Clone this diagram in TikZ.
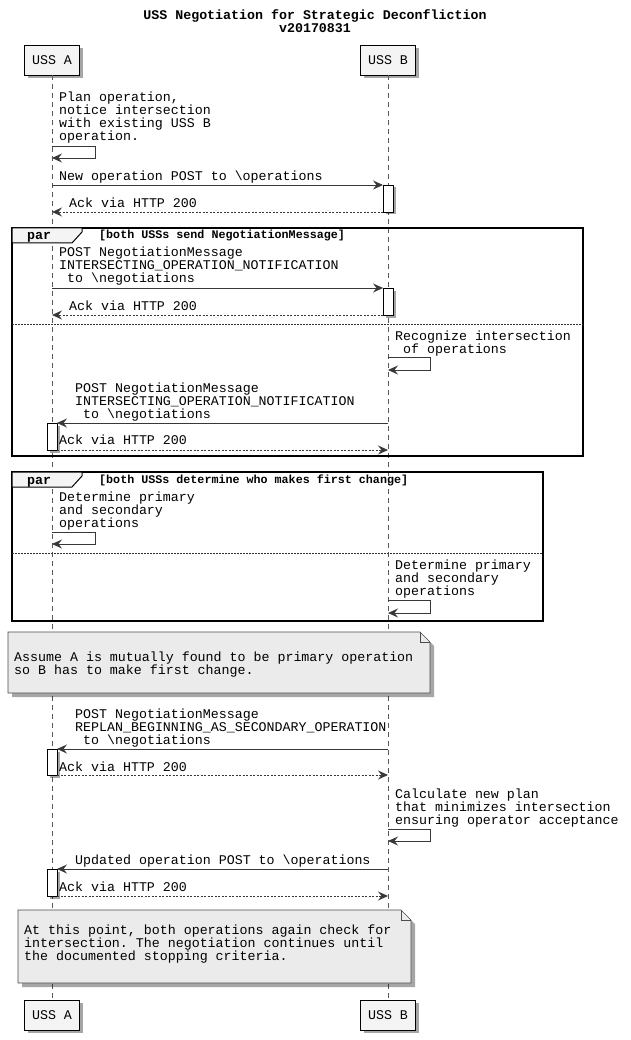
\documentclass[tikz,border=0pt]{standalone}
\usepackage{fontspec}
\setmonofont{Liberation Mono}
\usetikzlibrary{arrows.meta,shadows}
\definecolor{notefill}{HTML}{EBEBEB}
\definecolor{partfill}{HTML}{F4F4F4}
\definecolor{linecol}{HTML}{383838}
\begin{document}
\begin{tikzpicture}[x=1pt,y=-1pt,
  txt/.style={font=\ttfamily\fontsize{13.3}{13}\selectfont, inner sep=0pt, anchor=base west},
  ttl/.style={font=\ttfamily\bfseries\fontsize{13.3}{13}\selectfont, inner sep=0pt, anchor=base},
  grd/.style={font=\ttfamily\bfseries\fontsize{11.7}{13}\selectfont, inner sep=0pt, anchor=base west},
  part/.style={draw=black, line width=0.8pt, fill=partfill, minimum width=55pt, minimum height=30pt,
    inner sep=0pt, font=\ttfamily\fontsize{13.3}{13}\selectfont,
    drop shadow={shadow xshift=3pt, shadow yshift=-3pt, opacity=0.35, fill=black}},
  life/.style={draw=black!65, line width=0.6pt, dash pattern=on 5pt off 4pt},
  msg/.style={draw=linecol, line width=0.9pt, -{Stealth[length=10pt,width=9pt,inset=3.5pt]}},
  ret/.style={msg, dash pattern=on 2pt off 1.5pt},
  actbox/.style={draw=black, line width=0.8pt, fill=white,
    drop shadow={shadow xshift=2.5pt, shadow yshift=-2.5pt, opacity=0.35, fill=black}},
  frm/.style={draw=black, line width=1.5pt},
  tab/.style={draw=black, line width=1pt, fill=partfill},
  sep/.style={draw=black!80, line width=0.8pt, dash pattern=on 1.5pt off 1.5pt},
  notebox/.style={draw=black!70, line width=0.7pt, fill=notefill,
    drop shadow={shadow xshift=4pt, shadow yshift=-4pt, opacity=0.35, fill=black}}
]
\useasboundingbox (0,0) rectangle (630,1040);
\def\xA{52}
\def\xB{388}

% title
\node[ttl] (t1) at (315,20) {USS Negotiation for Strategic Deconfliction};
\node[ttl] (t2) at (315,33) {v20170831};

% participants
\node[part] (pAt) at (\xA,60) {USS A};
\node[part] (pBt) at (\xB,60) {USS B};
\node[part] (pAb) at (\xA,1015) {USS A};
\node[part] (pBb) at (\xB,1015) {USS B};
\draw[life] (pAt.south) -- (pAb.north);
\draw[life] (pBt.south) -- (pBb.north);

% 1: self on A
\node[txt] (m0a) at (59,102) {Plan operation,};
\node[txt] (m0b) at (59,115) {notice intersection};
\node[txt] (m0c) at (59,128) {with existing USS B};
\node[txt] (m0d) at (59,141) {operation.};
\coordinate (s0a) at (\xA,146); \coordinate (s0b) at (95,146);
\coordinate (s0c) at (95,158); \coordinate (s0d) at (\xA,158);
\draw[msg] (s0a) -- (s0b) -- (s0c) -- (s0d);

% 2: new operation
\node[txt] (m1) at (59,181) {New operation POST to \textbackslash operations};
\draw[actbox] (383,185) rectangle (393,212);
\coordinate (a1) at (\xA,185); \coordinate (b1) at (383,185);
\draw[msg] (a1) -- (b1);
\node[txt] (r1) at (69,208) {Ack via HTTP 200};
\coordinate (a2) at (\xA,212); \coordinate (b2) at (383,212);
\draw[ret] (b2) -- (a2);

% par frame 1
\draw[frm] (12,228) rectangle (583,456);
\draw[tab] (12,228) -- (82,228) -- (82,232) -- (72,243) -- (12,243) -- cycle;
\node[ttl, anchor=base west] (par1) at (27,240) {par};
\node[grd] (g1) at (99,239) {[both USSs send NegotiationMessage]};

\node[txt] (m2a) at (59,257) {POST NegotiationMessage};
\node[txt] (m2b) at (59,270) {INTERSECTING\_OPERATION\_NOTIFICATION};
\node[txt] (m2c) at (59,283) {\ to \textbackslash negotiations};
\draw[actbox] (383,288) rectangle (393,315);
\coordinate (a3) at (\xA,288); \coordinate (b3) at (383,288);
\draw[msg] (a3) -- (b3);
\node[txt] (r2) at (69,310) {Ack via HTTP 200};
\coordinate (a4) at (\xA,315); \coordinate (b4) at (383,315);
\draw[ret] (b4) -- (a4);

\draw[sep] (12,324) -- (583,324);

\node[txt] (m3a) at (395,340) {Recognize intersection};
\node[txt] (m3b) at (395,353) {\ of operations};
\coordinate (s3a) at (\xB,357); \coordinate (s3b) at (430,357);
\coordinate (s3c) at (430,370); \coordinate (s3d) at (\xB,370);
\draw[msg] (s3a) -- (s3b) -- (s3c) -- (s3d);

\node[txt] (m4a) at (75,392) {POST NegotiationMessage};
\node[txt] (m4b) at (75,405) {INTERSECTING\_OPERATION\_NOTIFICATION};
\node[txt] (m4c) at (75,418) {\ to \textbackslash negotiations};
\draw[actbox] (47,423) rectangle (57,450);
\coordinate (b5) at (\xB,423); \coordinate (a5) at (57,423);
\draw[msg] (b5) -- (a5);
\node[txt] (r3) at (59,444) {Ack via HTTP 200};
\coordinate (a6) at (57,450); \coordinate (b6) at (\xB,450);
\draw[ret] (a6) -- (b6);

% par frame 2
\draw[frm] (12,472) rectangle (543,621);
\draw[tab] (12,472) -- (82,472) -- (82,476) -- (72,487) -- (12,487) -- cycle;
\node[ttl, anchor=base west] (par2) at (27,484) {par};
\node[grd] (g2) at (99,483) {[both USSs determine who makes first change]};

\node[txt] (m5a) at (59,501) {Determine primary};
\node[txt] (m5b) at (59,514) {and secondary};
\node[txt] (m5c) at (59,527) {operations};
\coordinate (s5a) at (\xA,532); \coordinate (s5b) at (95,532);
\coordinate (s5c) at (95,544); \coordinate (s5d) at (\xA,544);
\draw[msg] (s5a) -- (s5b) -- (s5c) -- (s5d);

\draw[sep] (12,553) -- (543,553);

\node[txt] (m6a) at (395,569) {Determine primary};
\node[txt] (m6b) at (395,582) {and secondary};
\node[txt] (m6c) at (395,595) {operations};
\coordinate (s6a) at (\xB,600); \coordinate (s6b) at (430,600);
\coordinate (s6c) at (430,613); \coordinate (s6d) at (\xB,613);
\draw[msg] (s6a) -- (s6b) -- (s6c) -- (s6d);

% note 1
\draw[notebox] (8,632) -- (420,632) -- (430,642) -- (430,693) -- (8,693) -- cycle;
\draw[draw=black!70, line width=0.7pt] (420,632) -- (420,642) -- (430,642);
\node[txt] (n1a) at (14,661) {Assume A is mutually found to be primary operation};
\node[txt] (n1b) at (14,674) {so B has to make first change.};

% replan message
\node[txt] (m7a) at (75,718) {POST NegotiationMessage};
\node[txt] (m7b) at (75,731) {REPLAN\_BEGINNING\_AS\_SECONDARY\_OPERATION};
\node[txt] (m7c) at (75,744) {\ to \textbackslash negotiations};
\draw[actbox] (47,749) rectangle (57,775);
\coordinate (b7) at (\xB,749); \coordinate (a7) at (57,749);
\draw[msg] (b7) -- (a7);
\node[txt] (r4) at (59,771) {Ack via HTTP 200};
\coordinate (a8) at (57,775); \coordinate (b8) at (\xB,775);
\draw[ret] (a8) -- (b8);

\node[txt] (m8a) at (395,798) {Calculate new plan};
\node[txt] (m8b) at (395,811) {that minimizes intersection};
\node[txt] (m8c) at (395,824) {ensuring operator acceptance};
\coordinate (s8a) at (\xB,829); \coordinate (s8b) at (430,829);
\coordinate (s8c) at (430,841); \coordinate (s8d) at (\xB,841);
\draw[msg] (s8a) -- (s8b) -- (s8c) -- (s8d);

\node[txt] (m9) at (75,864) {Updated operation POST to \textbackslash operations};
\draw[actbox] (47,869) rectangle (57,896);
\coordinate (b9) at (\xB,869); \coordinate (a9) at (57,869);
\draw[msg] (b9) -- (a9);
\node[txt] (r5) at (59,891) {Ack via HTTP 200};
\coordinate (a10) at (57,896); \coordinate (b10) at (\xB,896);
\draw[ret] (a10) -- (b10);

% note 2
\draw[notebox] (18,910) -- (401,910) -- (411,920) -- (411,983) -- (18,983) -- cycle;
\draw[draw=black!70, line width=0.7pt] (401,910) -- (401,920) -- (411,920);
\node[txt] (n2a) at (24,934) {At this point, both operations again check for};
\node[txt] (n2b) at (24,947) {intersection. The negotiation continues until};
\node[txt] (n2c) at (24,960) {the documented stopping criteria.};
\end{tikzpicture}
\end{document}
